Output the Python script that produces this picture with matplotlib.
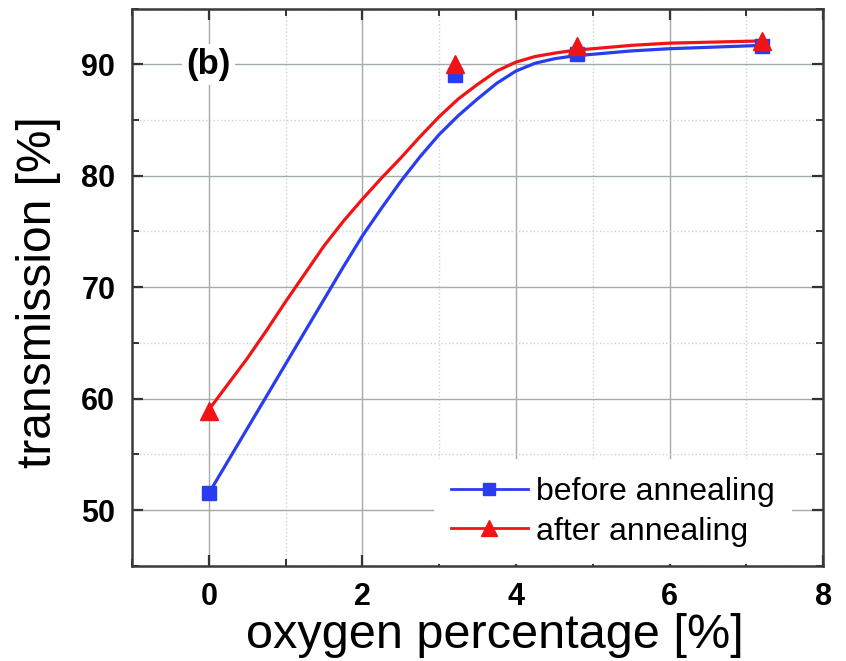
import matplotlib
matplotlib.use('Agg')
import matplotlib.pyplot as plt
from matplotlib.ticker import MultipleLocator

plt.rcParams['font.family'] = ['Liberation Sans', 'DejaVu Sans']

# Measured points
oxygen = [0, 3.2, 4.8, 7.2]
before_pts = [51.5, 89.0, 90.9, 91.6]
after_pts = [58.9, 90.0, 91.6, 92.1]

# Fitted curves
curve_x = [0, 0.25, 0.5, 0.75, 1.0, 1.25, 1.5, 1.75, 2.0, 2.25, 2.5, 2.75, 3.0,
           3.25, 3.5, 3.75, 4.0, 4.25, 4.5, 4.75, 5.0, 5.5, 6.0, 6.6, 7.2]
before_curve = [51.5, 54.4, 57.3, 60.2, 63.1, 66.0, 68.9, 71.8, 74.6, 77.1, 79.5, 81.7, 83.7,
                85.4, 86.9, 88.3, 89.4, 90.1, 90.5, 90.75, 90.9, 91.2, 91.4, 91.55, 91.7]
after_curve = [59.0, 61.3, 63.6, 66.1, 68.7, 71.2, 73.7, 75.9, 77.9, 79.8, 81.6, 83.5, 85.3,
               86.9, 88.2, 89.4, 90.2, 90.7, 91.0, 91.25, 91.4, 91.7, 91.9, 92.0, 92.1]

BLUE = '#2a3cf0'
RED = '#f01414'

fig = plt.figure(figsize=(8.46, 6.61), dpi=100)
ax = fig.add_axes([0.156, 0.144, 0.817, 0.843])

ax.plot(curve_x, before_curve, color=BLUE, lw=2.3, zorder=3)
ax.plot(curve_x, after_curve, color=RED, lw=2.3, zorder=3)
ax.plot(oxygen, before_pts, 's', color=BLUE, ms=10.5, zorder=4)
ax.plot(oxygen, after_pts, '^', color=RED, ms=13, zorder=5)

# legend handles: line with marker in the middle
h1, = ax.plot([], [], '-s', color=BLUE, lw=2, ms=9)
h2, = ax.plot([], [], '-^', color=RED, lw=2, ms=12)
leg = ax.legend([h1, h2], ['before annealing', 'after annealing'], loc='lower right',
                bbox_to_anchor=(0.955, 0.003), borderaxespad=0,
                fontsize=23, frameon=True, framealpha=1, facecolor='white', edgecolor='none',
                fancybox=False, handlelength=2.4, handletextpad=0.25, labelspacing=0.3,
                borderpad=0.55, numpoints=1)
leg.set_zorder(6)

ax.set_xlim(-1, 8)
ax.set_ylim(45, 95)
ax.xaxis.set_major_locator(MultipleLocator(2))
ax.xaxis.set_minor_locator(MultipleLocator(1))
ax.yaxis.set_major_locator(MultipleLocator(10))
ax.yaxis.set_minor_locator(MultipleLocator(5))

ax.grid(which='major', color='#a3abab', lw=1.0, ls='-', zorder=0)
ax.grid(which='minor', color='#cfd3d3', lw=1.0, ls=':', zorder=0)
ax.set_axisbelow(True)

ax.tick_params(which='both', direction='in', top=True, right=True, color='#333333')
ax.tick_params(which='major', length=8, width=1.6, labelsize=22, pad=12)
ax.tick_params(which='minor', length=5, width=1.4)
for lbl in ax.get_xticklabels() + ax.get_yticklabels():
    lbl.set_fontweight('bold')
for sp in ax.spines.values():
    sp.set_linewidth(1.8)
    sp.set_color('#3a3a3a')

ax.set_xlabel('oxygen percentage [%]', fontsize=35)
ax.set_ylabel('transmission [%]', fontsize=34.5)
ax.xaxis.set_label_coords(0.525, -0.085)
ax.yaxis.set_label_coords(-0.102, 0.491)

ax.text(0, 90, '(b)', fontsize=25, fontweight='bold', ha='center', va='center', zorder=6,
        bbox=dict(facecolor='white', edgecolor='none', pad=3))

fig.savefig('out.png', dpi=100)
